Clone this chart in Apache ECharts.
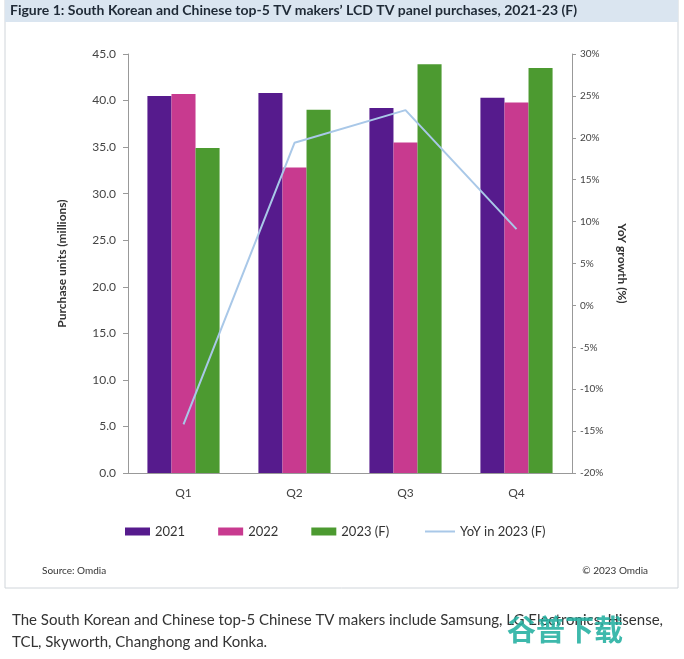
<!DOCTYPE html>
<html><head><meta charset="utf-8">
<script src="https://cdn.jsdelivr.net/npm/echarts@6/dist/echarts.min.js"></script>
<style>html,body{margin:0;padding:0;background:#fff}#c{width:684px;height:659px}</style>
</head><body><div id="c"></div>
<script>
const categories = ['Q1', 'Q2', 'Q3', 'Q4'];
const units2021 = [40.5, 40.8, 39.2, 40.3];
const units2022 = [40.7, 32.8, 35.5, 39.8];
const units2023F = [34.9, 39.0, 43.9, 43.5];
const yoy2023F = [-14.2, 19.4, 23.3, 9.1];
const leftTicks = { min: 0, max: 45, interval: 5 };
const rightTicks = { min: -20, max: 30, interval: 5 };

const FONT = 'Lato, "Open Sans", sans-serif';
const chart = echarts.init(document.getElementById('c'));
chart.setOption({
  animation: false,
  textStyle: { fontFamily: FONT },
  graphic: [
    { type: 'rect', shape: { x: 5, y: 0, width: 673, height: 588 }, style: { fill: '#fff', stroke: '#d0d5da', lineWidth: 1 }, z: -10 },
    { type: 'rect', shape: { x: 5, y: 0, width: 673, height: 22 }, style: { fill: '#dae5f0' }, z: -5 },
    { type: 'text', left: 10, top: 3, style: { text: 'Figure 1: South Korean and Chinese top-5 TV makers\u2019 LCD TV panel purchases, 2021-23 (F)', font: 'bold 14px ' + FONT, fill: '#1f2a36' } },
    { type: 'text', left: 42, top: 566, style: { text: 'Source: Omdia', font: '10px ' + FONT, fill: '#333' } },
    { type: 'text', right: 36, top: 566, style: { text: '\u00a9 2023 Omdia', font: '10px ' + FONT, fill: '#333' } },
    { type: 'text', left: 12, top: 609, style: { text: 'The South Korean and Chinese top-5 Chinese TV makers include Samsung, LG Electronics, Hisense,\nTCL, Skyworth, Changhong and Konka.', font: '15px ' + FONT, fill: '#333', lineHeight: 22 } },
    { type: 'text', left: 507, top: 615, z: 10, style: { text: '谷普下载', font: 'bold 29px "Noto Sans CJK SC"', fill: 'rgba(35,175,160,0.88)' } }
  ],
  legend: [
    {
      left: 120, top: 520, itemWidth: 25, itemHeight: 8, itemGap: 33,
      textStyle: { fontSize: 13, color: '#333', fontFamily: FONT },
      data: [
        { name: '2021', icon: 'rect' },
        { name: '2022', icon: 'rect' },
        { name: '2023 (F)', icon: 'rect' }
      ]
    },
    {
      left: 420, top: 520, itemWidth: 30, itemHeight: 2, itemGap: 0,
      textStyle: { fontSize: 13, color: '#333', fontFamily: FONT },
      data: [{ name: 'YoY in 2023 (F)', icon: 'rect' }]
    }
  ],
  grid: { left: 128, right: 112, top: 54, bottom: 186 },
  xAxis: {
    type: 'category', data: categories,
    axisLine: { lineStyle: { color: '#999' } },
    axisTick: { show: false },
    axisLabel: { color: '#444', fontSize: 12, margin: 14 }
  },
  yAxis: [
    {
      type: 'value', min: leftTicks.min, max: leftTicks.max, interval: leftTicks.interval,
      name: 'Purchase units (millions)', nameLocation: 'middle', nameGap: 60, nameRotate: 90,
      nameTextStyle: { fontWeight: 'bold', fontSize: 12, color: '#333' },
      axisLine: { show: true, lineStyle: { color: '#999' } },
      axisTick: { show: true, length: 5, lineStyle: { color: '#999' } },
      splitLine: { show: false },
      axisLabel: { formatter: v => v.toFixed(1), color: '#444', fontSize: 12, margin: 12 }
    },
    {
      type: 'value', min: rightTicks.min, max: rightTicks.max, interval: rightTicks.interval,
      name: 'YoY growth (%)', nameLocation: 'middle', nameGap: 44, nameRotate: -90,
      nameTextStyle: { fontWeight: 'bold', fontSize: 12, color: '#333' },
      axisLine: { show: true, lineStyle: { color: '#999' } },
      axisTick: { show: true, length: 4, lineStyle: { color: '#999' } },
      splitLine: { show: false },
      axisLabel: { formatter: '{value}%', color: '#444', fontSize: 10, margin: 8 }
    }
  ],
  series: [
    { name: '2021', type: 'bar', data: units2021, itemStyle: { color: '#561b8d' }, barGap: '0%', barCategoryGap: '35%' },
    { name: '2022', type: 'bar', data: units2022, itemStyle: { color: '#c83a8f' } },
    { name: '2023 (F)', type: 'bar', data: units2023F, itemStyle: { color: '#4c9a30' } },
    { name: 'YoY in 2023 (F)', type: 'line', yAxisIndex: 1, data: yoy2023F, symbol: 'none',
      lineStyle: { color: '#a9c8e8', width: 2 }, itemStyle: { color: '#a9c8e8' }, z: 5 }
  ]
});
</script></body></html>
